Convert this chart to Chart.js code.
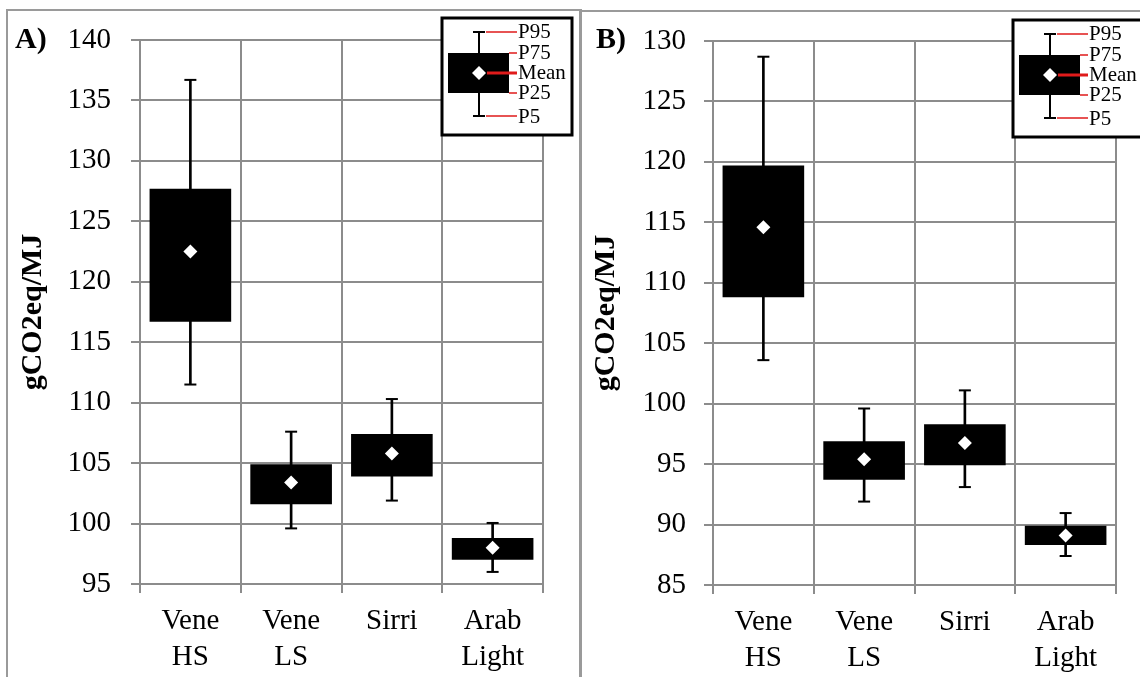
<!DOCTYPE html>
<html><head><meta charset="utf-8">
<script src="https://cdn.jsdelivr.net/npm/chart.js@4.4.1/dist/chart.umd.min.js"></script>
<style>
html,body{margin:0;padding:0;background:#fff;}
#wrap{position:relative;width:1140px;height:677px;overflow:hidden;background:#fff;}
canvas{position:absolute;top:0;}
.fr{position:absolute;background:#9a9a9a;}
</style></head>
<body><div id="wrap">
<canvas id="cA" width="580" height="677" style="left:0px"></canvas>
<canvas id="cB" width="560" height="677" style="left:580px"></canvas>
<div class="fr" style="left:6px;top:9px;width:2px;height:668px"></div>
<div class="fr" style="left:6px;top:9px;width:574px;height:2px"></div>
<div class="fr" style="left:579px;top:9px;width:3px;height:668px"></div>
<div class="fr" style="left:580px;top:10px;width:560px;height:2px"></div>
</div>
<script>
// ---- data ----
const categories = [['Vene','HS'],['Vene','LS'],['Sirri'],['Arab','Light']];
const yTitle = 'gCO2eq/MJ';
const legendLabels = ['P95','P75','Mean','P25','P5'];

const aP5   = [111.5, 99.6, 101.9, 96.0];
const aP25  = [116.7, 101.6, 103.9, 97.0];
const aMean = [122.5, 103.4, 105.8, 98.0];
const aP75  = [127.7, 104.9, 107.4, 98.8];
const aP95  = [136.7, 107.6, 110.3, 100.05];

const bP5   = [103.6, 91.9, 93.1, 87.4];
const bP25  = [108.8, 93.7, 94.9, 88.3];
const bMean = [114.6, 95.4, 96.75, 89.1];
const bP75  = [119.7, 96.9, 98.3, 89.9];
const bP95  = [128.7, 99.6, 101.1, 90.95];

const aTicks = {min:95, max:140, step:5};
const bTicks = {min:85, max:130, step:5};

// ---- style ----
const FONT = "'Liberation Serif', 'Times New Roman', serif";
const GRID = '#8c8c8c';

function drawLegend(ctx, ox, oy){
  ctx.save();
  ctx.translate(ox, oy);
  ctx.fillStyle = '#fff';
  ctx.fillRect(442, 18, 130, 117);
  ctx.strokeStyle = '#000'; ctx.lineWidth = 3;
  ctx.strokeRect(442, 18, 130, 117);
  // whisker
  ctx.lineWidth = 2;
  ctx.beginPath();
  ctx.moveTo(479, 32); ctx.lineTo(479, 116);
  ctx.moveTo(473, 32); ctx.lineTo(485, 32);
  ctx.moveTo(473, 116); ctx.lineTo(485, 116);
  ctx.stroke();
  ctx.fillStyle = '#000';
  ctx.fillRect(448, 53, 61, 40);
  // diamond
  ctx.fillStyle = '#fff';
  ctx.beginPath();
  ctx.moveTo(472, 73); ctx.lineTo(479, 66); ctx.lineTo(486, 73); ctx.lineTo(479, 80); ctx.closePath();
  ctx.fill();
  // red leaders
  ctx.strokeStyle = '#e01b1b';
  ctx.lineWidth = 1.5;
  ctx.beginPath();
  ctx.moveTo(486, 32); ctx.lineTo(517, 32);
  ctx.moveTo(509, 53); ctx.lineTo(517, 53);
  ctx.moveTo(509, 93); ctx.lineTo(517, 93);
  ctx.moveTo(486, 116); ctx.lineTo(517, 116);
  ctx.stroke();
  ctx.lineWidth = 3;
  ctx.beginPath(); ctx.moveTo(487, 73); ctx.lineTo(517, 73); ctx.stroke();
  // labels
  ctx.fillStyle = '#000';
  ctx.font = "21px " + FONT;
  ctx.textBaseline = 'middle';
  ctx.textAlign = 'left';
  const ys = [32, 53, 73, 93, 117];
  legendLabels.forEach((t,i)=>ctx.fillText(t, 518, ys[i]));
  ctx.restore();
}

function makeChart(id, p5, p25, mean, p75, p95, tk, opt){
  const plugin = {
    id: 'extras' + id,
    afterDraw(chart){
      const ctx = chart.ctx;
      ctx.save();
      ctx.fillStyle = '#000';
      ctx.font = "bold 30px " + FONT;
      ctx.textBaseline = 'alphabetic';
      ctx.textAlign = 'left';
      ctx.fillText(opt.panel, opt.panelX, 48);
      ctx.restore();
      drawLegend(ctx, opt.legOx, opt.legOy);
    }
  };
  return new Chart(document.getElementById(id), {
    type: 'bar',
    data: {
      labels: categories,
      datasets: [
        {type:'line', label:'Mean', data: mean, showLine:false, pointStyle:'rectRot', pointRadius:7,
         pointBackgroundColor:'#fff', pointBorderColor:'#fff', pointBorderWidth:0, order:0},
        {type:'line', label:'P95', data: p95, showLine:false, pointStyle:'line', pointRadius:6,
         pointBorderColor:'#000', pointBorderWidth:2, order:1},
        {type:'line', label:'P5', data: p5, showLine:false, pointStyle:'line', pointRadius:6,
         pointBorderColor:'#000', pointBorderWidth:2, order:1},
        {label:'Box', data: p25.map((v,i)=>[v, p75[i]]), backgroundColor:'#000', borderWidth:0,
         grouped:false, barPercentage:0.81, categoryPercentage:1, order:2},
        {label:'Whisker', data: p5.map((v,i)=>[v, p95[i]]), backgroundColor:'#000', borderWidth:0,
         grouped:false, barThickness:2, order:3}
      ]
    },
    options: {
      responsive:false, animation:false,
      layout:{padding:{left:0, right:opt.padRight, top:opt.padTop, bottom:0}},
      plugins:{legend:{display:false}, tooltip:{enabled:false}},
      scales:{
        x:{
          grid:{color:GRID, lineWidth:2, tickLength:9, offset:true},
          border:{color:GRID, width:2},
          ticks:{color:'#000', font:{family:FONT, size:29, lineHeight:1.24}, padding:10, maxRotation:0, autoSkip:false},
          afterFit(s){ s.height = opt.xH; }
        },
        y:{
          min:tk.min, max:tk.max,
          grid:{color:GRID, lineWidth:2, tickLength:9},
          border:{color:GRID, width:2},
          ticks:{stepSize:tk.step, color:'#000', font:{family:FONT, size:29}, padding:opt.tickPad},
          title:{display:true, text:yTitle, color:'#000', font:{family:FONT, size:30, weight:'bold'}, padding:{top:opt.titlePad, bottom:0}},
          afterFit(s){ s.width = opt.yW; }
        }
      }
    },
    plugins:[plugin]
  });
}

makeChart('cA', aP5, aP25, aMean, aP75, aP95, aTicks,
  {panel:'A)', panelX:15, legOx:0, legOy:0, padRight:37, padTop:40, xH:93, yW:140, tickPad:20, titlePad:15});
makeChart('cB', bP5, bP25, bMean, bP75, bP95, bTicks,
  {panel:'B)', panelX:16, legOx:-9, legOy:2, padRight:24, padTop:41, xH:92, yW:133, tickPad:18, titlePad:8});
</script>
</body></html>
